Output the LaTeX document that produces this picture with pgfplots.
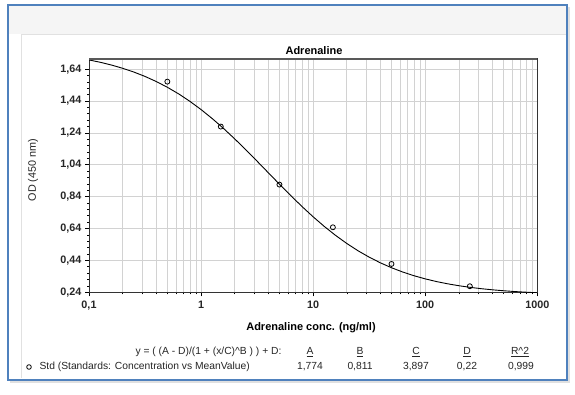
\documentclass[border=0pt]{standalone}
\usepackage{pgfplots}
\pgfplotsset{compat=1.18}
\usepackage{fontspec}
\setmainfont{Liberation Sans}
\definecolor{frameblue}{RGB}{79,129,189}
\definecolor{gridgray}{RGB}{210,210,210}
\definecolor{panelgray}{RGB}{225,225,225}
\begin{document}
\begin{tikzpicture}[x=1pt,y=1pt]
% page bounds
\fill[white] (0,0) rectangle (575,394);
% shadow of outer frame
\fill[black!12] (10,11) rectangle (570,387);
\fill[white] (8,14) rectangle (567,389);
% inner panel
\draw[panelgray, line width=1pt] (21,16) -- (21,359) -- (566,359);
\fill[black!4] (9,360) rectangle (566,388);
% outer blue frame
\draw[frameblue, line width=1.6pt] (8,14) rectangle (567,389);

\begin{axis}[
  at={(89pt,101.7pt)}, anchor=south west,
  scale only axis, width=448.3pt, height=233.6pt,
  xmode=log, xmin=0.1, xmax=1000,
  ymin=0.24, ymax=1.706,
  xtick={0.1,1,10,100,1000},
  xticklabels={{0,1},1,10,100,1000},
  ytick={0.24,0.44,0.64,0.84,1.04,1.24,1.44,1.64},
  minor y tick num=4,
  yticklabel style={/pgf/number format/.cd, fixed, fixed zerofill, precision=2, use comma},
  /pgf/number format/assume math mode=true,
  tick label style={font=\bfseries\fontsize{10.8}{12}\selectfont, text=black!85},
  xticklabel style={yshift=-1pt},
  tick align=outside, tick pos=left,
  major tick length=4pt, minor tick length=2pt,
  every tick/.style={black, line width=0.7pt},
  xmajorgrids=true, xminorgrids=true, ymajorgrids=true,
  major grid style={gridgray, line width=0.8pt},
  minor grid style={gridgray, line width=0.8pt},
  axis line style={black!80, line width=0.9pt},
  clip=true,
]
\addplot[black, line width=0.9pt, no marks] coordinates {
(0.1,1.6982) (0.12589,1.6836) (0.15849,1.6663) (0.19953,1.6460) (0.25119,1.6223)
(0.31623,1.5947) (0.39811,1.5629) (0.50119,1.5264) (0.63096,1.4851) (0.79433,1.4385)
(1,1.3868) (1.2589,1.3300) (1.5849,1.2686) (1.9953,1.2029) (2.5119,1.1340)
(3.1623,1.0627) (3.9811,0.9903) (5.0119,0.9180) (6.3096,0.8471) (7.9433,0.7787)
(10,0.7137) (12.589,0.6531) (15.849,0.5972) (19.953,0.5465) (25.119,0.5009)
(31.623,0.4605) (39.811,0.4249) (50.119,0.3939) (63.096,0.3671) (79.433,0.3440)
(100,0.3243) (125.89,0.3075) (158.49,0.2933) (199.53,0.2813) (251.19,0.2712)
(316.23,0.2627) (398.11,0.2556) (501.19,0.2497) (630.96,0.2447) (794.33,0.2406)
(1000,0.2371)
};
\addplot[only marks, mark=o, mark size=2.5pt, black, line width=0.8pt] coordinates {
(0.5,1.562) (1.5,1.280) (5,0.916) (15,0.648) (50,0.418) (250,0.278)
};
\draw[black!65, line width=2pt] (rel axis cs:0,1) -- (rel axis cs:1,1);
\end{axis}

% titles and labels
\node[font=\bfseries\fontsize{11}{13}\selectfont] at (314,343) {Adrenaline};
\node[font=\bfseries\fontsize{11}{13}\selectfont] at (311,66) {Adrenaline conc. (ng/ml)};
\node[rotate=90, font=\fontsize{10.8}{12}\selectfont, text=black!85] at (33,224) {OD (450 nm)};

% fit legend
\begin{scope}[font=\fontsize{10.3}{12}\selectfont, text=black!85]
\node[anchor=east] at (285,42) {y = ( (A - D)/(1 + (x/C)\textasciicircum B ) ) + D:};
\node at (310,42) {\underline{A}};
\node at (360,42) {\underline{B}};
\node at (416,42) {\underline{C}};
\node at (467,42) {\underline{D}};
\node at (520,42) {\underline{R\textasciicircum 2}};
\draw[black, line width=0.8pt] (29,27) circle (2.3);
\node[anchor=west] at (36,27) {Std (Standards: Concentration vs MeanValue)};
\node at (310,27) {1,774};
\node at (360,27) {0,811};
\node at (416,27) {3,897};
\node at (467,27) {0,22};
\node at (521,27) {0,999};
\end{scope}
\end{tikzpicture}
\end{document}
